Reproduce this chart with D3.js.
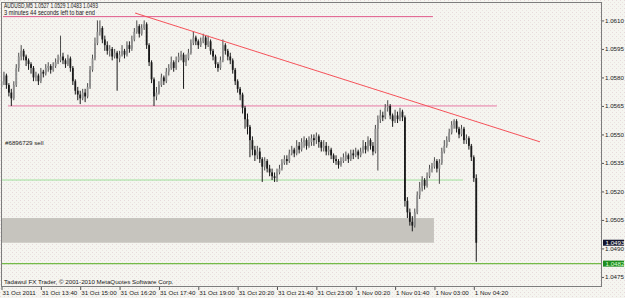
<!DOCTYPE html>
<html>
<head>
<meta charset="utf-8">
<script src="https://cdn.jsdelivr.net/npm/d3@7"></script>
<style>
    body { margin: 0; background: #f4f4ef; }
    svg { display: block; }
    text { font-family: "Liberation Sans", Arial, sans-serif; font-size: 6.2px; fill: #1a1a1a; }
</style>
</head>
<body>
<div id="chart"></div>
<script>
// AUDUSD M5, 31 Oct 2011 12:20 -> 1 Nov 04:25, one entry per bar
var firstOpen = 1.0575
var closes = [
    1.0578, 1.0581, 1.0576, 1.0572, 1.0569, 1.0576, 1.0585, 1.0591, 1.0594, 1.0591,
    1.0589, 1.0587, 1.0585, 1.0580, 1.0581, 1.0578, 1.0583, 1.0582, 1.0585, 1.0586,
    1.0584, 1.0586, 1.0588, 1.0589, 1.0591, 1.0589, 1.0587, 1.0590, 1.0585, 1.0578,
    1.0573, 1.0571, 1.0569, 1.0572, 1.0570, 1.0575, 1.0584, 1.0590, 1.0598, 1.0604,
    1.0606, 1.0600, 1.0597, 1.0594, 1.0595, 1.0591, 1.0593, 1.0590, 1.0592, 1.0594,
    1.0592, 1.0597, 1.0595, 1.0600, 1.0604, 1.0607, 1.0603, 1.0606, 1.0608, 1.0597,
    1.0588, 1.0579, 1.0570, 1.0572, 1.0576, 1.0580, 1.0578, 1.0583, 1.0585, 1.0588,
    1.0585, 1.0589, 1.0591, 1.0592, 1.0588, 1.0590, 1.0593, 1.0598, 1.0601, 1.0599,
    1.0597, 1.0599, 1.0601, 1.0597, 1.0599, 1.0594, 1.0591, 1.0587, 1.0585, 1.0589,
    1.0597, 1.0594, 1.0591, 1.0589, 1.0584, 1.0578, 1.0574, 1.0571, 1.0564, 1.0558,
    1.0554, 1.0547, 1.0542, 1.0539, 1.0541, 1.0537, 1.0533, 1.0536, 1.0532, 1.0530,
    1.0528, 1.0527, 1.0530, 1.0532, 1.0535, 1.0537, 1.0536, 1.0540, 1.0542, 1.0540,
    1.0544, 1.0542, 1.0546, 1.0547, 1.0544, 1.0546, 1.0548, 1.0547, 1.0549, 1.0546,
    1.0543, 1.0544, 1.0541, 1.0542, 1.0539, 1.0537, 1.0536, 1.0534, 1.0536, 1.0538,
    1.0539, 1.0537, 1.0540, 1.0539, 1.0541, 1.0539, 1.0541, 1.0544, 1.0542, 1.0547,
    1.0544, 1.0541, 1.0553, 1.0558, 1.0560, 1.0559, 1.0564, 1.0565, 1.0560, 1.0557,
    1.0560, 1.0558, 1.0562, 1.0559, 1.0515, 1.0509, 1.0504, 1.0502, 1.0509, 1.0518,
    1.0522, 1.0526, 1.0523, 1.0528, 1.0532, 1.0533, 1.0536, 1.0532, 1.0535, 1.0541,
    1.0544, 1.0547, 1.0551, 1.0555, 1.0557, 1.0553, 1.0550, 1.0553, 1.0547, 1.0548,
    1.0544, 1.0538, 1.0527, 1.0493
]
var highs = [
    1.0580, 1.0583, 1.0582, 1.0577, 1.0574, 1.0578, 1.0587, 1.0593, 1.0597, 1.0595,
    1.0592, 1.0590, 1.0588, 1.0586, 1.0583, 1.0582, 1.0585, 1.0584, 1.0587, 1.0588,
    1.0587, 1.0588, 1.0590, 1.0592, 1.0602, 1.0593, 1.0590, 1.0592, 1.0591, 1.0586,
    1.0579, 1.0575, 1.0573, 1.0574, 1.0574, 1.0577, 1.0586, 1.0592, 1.0601, 1.0610,
    1.0610, 1.0607, 1.0602, 1.0599, 1.0597, 1.0596, 1.0595, 1.0594, 1.0594, 1.0597,
    1.0595, 1.0599, 1.0599, 1.0602, 1.0606, 1.0610, 1.0608, 1.0608, 1.0610, 1.0609,
    1.0598, 1.0589, 1.0580, 1.0575, 1.0578, 1.0582, 1.0581, 1.0585, 1.0587, 1.0591,
    1.0589, 1.0591, 1.0593, 1.0594, 1.0593, 1.0592, 1.0595, 1.0600, 1.0604, 1.0602,
    1.0600, 1.0601, 1.0603, 1.0602, 1.0602, 1.0600, 1.0595, 1.0592, 1.0588, 1.0591,
    1.0600, 1.0598, 1.0595, 1.0593, 1.0590, 1.0585, 1.0579, 1.0575, 1.0572, 1.0565,
    1.0561, 1.0555, 1.0549, 1.0544, 1.0544, 1.0543, 1.0538, 1.0538, 1.0537, 1.0534,
    1.0532, 1.0530, 1.0532, 1.0534, 1.0537, 1.0539, 1.0539, 1.0542, 1.0544, 1.0543,
    1.0547, 1.0546, 1.0548, 1.0549, 1.0548, 1.0549, 1.0550, 1.0550, 1.0551, 1.0550,
    1.0547, 1.0547, 1.0546, 1.0544, 1.0543, 1.0540, 1.0539, 1.0537, 1.0538, 1.0540,
    1.0541, 1.0540, 1.0542, 1.0542, 1.0543, 1.0542, 1.0543, 1.0547, 1.0546, 1.0549,
    1.0548, 1.0546, 1.0555, 1.0560, 1.0563, 1.0562, 1.0566, 1.0568, 1.0566, 1.0561,
    1.0563, 1.0562, 1.0564, 1.0563, 1.0560, 1.0517, 1.0511, 1.0507, 1.0511, 1.0520,
    1.0525, 1.0528, 1.0527, 1.0530, 1.0534, 1.0535, 1.0538, 1.0537, 1.0537, 1.0543,
    1.0547, 1.0549, 1.0553, 1.0557, 1.0558, 1.0558, 1.0554, 1.0555, 1.0554, 1.0550,
    1.0549, 1.0545, 1.0539, 1.0529
]
var lows = [
    1.0572, 1.0576, 1.0574, 1.0570, 1.0565, 1.0568, 1.0575, 1.0583, 1.0589, 1.0589,
    1.0586, 1.0584, 1.0582, 1.0578, 1.0578, 1.0576, 1.0577, 1.0580, 1.0581, 1.0583,
    1.0582, 1.0583, 1.0585, 1.0587, 1.0588, 1.0587, 1.0585, 1.0586, 1.0583, 1.0576,
    1.0571, 1.0568, 1.0566, 1.0568, 1.0567, 1.0569, 1.0574, 1.0583, 1.0589, 1.0597,
    1.0602, 1.0598, 1.0594, 1.0592, 1.0591, 1.0589, 1.0590, 1.0573, 1.0588, 1.0591,
    1.0590, 1.0591, 1.0593, 1.0594, 1.0599, 1.0603, 1.0601, 1.0602, 1.0605, 1.0595,
    1.0586, 1.0577, 1.0565, 1.0568, 1.0571, 1.0575, 1.0576, 1.0577, 1.0581, 1.0584,
    1.0583, 1.0584, 1.0588, 1.0589, 1.0574, 1.0586, 1.0589, 1.0592, 1.0597, 1.0597,
    1.0595, 1.0596, 1.0598, 1.0595, 1.0596, 1.0592, 1.0589, 1.0585, 1.0583, 1.0584,
    1.0588, 1.0592, 1.0589, 1.0587, 1.0582, 1.0576, 1.0572, 1.0568, 1.0561, 1.0553,
    1.0550, 1.0538, 1.0539, 1.0536, 1.0537, 1.0535, 1.0525, 1.0531, 1.0530, 1.0528,
    1.0526, 1.0525, 1.0525, 1.0529, 1.0531, 1.0534, 1.0534, 1.0535, 1.0539, 1.0538,
    1.0539, 1.0540, 1.0541, 1.0543, 1.0542, 1.0543, 1.0544, 1.0544, 1.0545, 1.0543,
    1.0541, 1.0541, 1.0539, 1.0539, 1.0537, 1.0535, 1.0534, 1.0532, 1.0533, 1.0535,
    1.0536, 1.0535, 1.0536, 1.0537, 1.0538, 1.0537, 1.0538, 1.0540, 1.0540, 1.0541,
    1.0542, 1.0539, 1.0540, 1.0531, 1.0556, 1.0557, 1.0558, 1.0562, 1.0558, 1.0554,
    1.0556, 1.0556, 1.0557, 1.0557, 1.0512, 1.0506, 1.0502, 1.0499, 1.0501, 1.0508,
    1.0516, 1.0520, 1.0521, 1.0522, 1.0527, 1.0530, 1.0532, 1.0530, 1.0524, 1.0534,
    1.0540, 1.0543, 1.0546, 1.0550, 1.0553, 1.0551, 1.0548, 1.0549, 1.0545, 1.0545,
    1.0542, 1.0536, 1.0525, 1.0483
]

var priceTicks = [1.0610, 1.0595, 1.0580, 1.0565, 1.0550, 1.0535, 1.0520, 1.0505, 1.0490, 1.0475]
var timeTickBars = [0, 16, 32, 48, 64, 80, 96, 112, 128, 144, 160, 176, 192]
var timeLabels = ["31 Oct 2011", "31 Oct 13:40", "31 Oct 15:00", "31 Oct 16:20", "31 Oct 17:40",
    "31 Oct 19:00", "31 Oct 20:20", "31 Oct 21:40", "31 Oct 23:00", "1 Nov 00:20",
    "1 Nov 01:40", "1 Nov 03:00", "1 Nov 04:20"]

// chart objects (prices, and start / end in bars)
var resistTop = { price: 1.0612, from: 0.6, to: 175.4 }
var resistMid = { price: 1.0565, from: 2.6, to: 201.4 }
var supportLine = { price: 1.0526, from: 0.2, to: 187.6 }
var zoneBox = { top: 1.0506, bottom: 1.0493, from: 0.2, to: 175.8 }
var trendBars = [54.3, 218.9]
var trendPrices = [1.06139, 1.05461]
var bidPrice = 1.0493
var levelPrice = 1.0482

var title = "AUDUSD,M5  1.0527 1.0529 1.0483 1.0493"
var timer = "3 minutes 44 seconds left to bar end"
var orderLabel = "#6896729 sell"
var copyright = "Tadawul FX Trader, \u00a9 2001-2010 MetaQuotes Software Corp."

var W = 625, H = 298
var plot = { left: 1, top: 2, right: 602, bottom: 287 }

var svg = d3.select('#chart').append('svg')
    .attr('width', W).attr('height', H)

var defs = svg.append('defs')
var pat = defs.append('pattern').attr('id', 'dots')
    .attr('width', 4).attr('height', 4).attr('patternUnits', 'userSpaceOnUse')
pat.append('rect').attr('width', 4).attr('height', 4).attr('fill', '#f5f5f0')
pat.append('rect').attr('x', 0).attr('y', 0).attr('width', 1).attr('height', 1).attr('fill', '#e7d9db')
pat.append('rect').attr('x', 2).attr('y', 2).attr('width', 1).attr('height', 1).attr('fill', '#ebe3e0')
defs.append('clipPath').attr('id', 'clip').append('rect')
    .attr('x', plot.left).attr('y', plot.top)
    .attr('width', plot.right - plot.left).attr('height', plot.bottom - plot.top)

svg.append('rect').attr('width', W).attr('height', H).attr('fill', 'url(#dots)')

var x = d3.scaleLinear().domain([0, 244.4]).range([1.5, 602.7])
var y = d3.scaleLinear().domain([1.04697, 1.06197]).range([plot.bottom, plot.top])

var g = svg.append('g').attr('clip-path', 'url(#clip)')

// zone and levels, behind the candles
g.append('rect')
    .attr('x', x(zoneBox.from)).attr('width', x(zoneBox.to) - x(zoneBox.from))
    .attr('y', y(zoneBox.top)).attr('height', y(zoneBox.bottom) - y(zoneBox.top))
    .attr('fill', '#c6c4be')

function hline(l, color, w) {
    g.append('line')
        .attr('x1', x(l.from)).attr('x2', x(l.to))
        .attr('y1', y(l.price)).attr('y2', y(l.price))
        .attr('stroke', color).attr('stroke-width', w)
}
hline(resistTop, '#e0588a', 1)
hline(resistMid, '#e87aa6', 1)
hline(supportLine, '#9ee09a', 1)
hline({ price: levelPrice, from: -2, to: 250 }, '#74bb48', 1.2)

// candles
var bars = closes.map(function (c, i) {
    return { i: i, o: i === 0 ? firstOpen : closes[i - 1], c: c, h: highs[i], l: lows[i] }
})

var candle = g.append('g').selectAll('g').data(bars).enter().append('g')

candle.append('line')
    .attr('x1', d => x(d.i)).attr('x2', d => x(d.i))
    .attr('y1', d => y(d.h)).attr('y2', d => y(d.l))
    .attr('stroke', d => d.c >= d.o ? '#4a4a4a' : '#1a1a1a')
    .attr('stroke-width', 1)

candle.append('rect')
    .attr('x', d => x(d.i) - 0.9)
    .attr('width', 1.8)
    .attr('y', d => y(Math.max(d.o, d.c)))
    .attr('height', d => Math.max(1, y(Math.min(d.o, d.c)) - y(Math.max(d.o, d.c))))
    .attr('fill', d => d.c >= d.o ? '#8e8e8e' : '#1a1a1a')

// trend line
g.append('line')
    .attr('x1', x(trendBars[0])).attr('y1', y(trendPrices[0]))
    .attr('x2', x(trendBars[1])).attr('y2', y(trendPrices[1]))
    .attr('stroke', '#f5525a').attr('stroke-width', 1)

// border
svg.append('rect')
    .attr('x', plot.left + 0.5).attr('y', plot.top + 0.5)
    .attr('width', plot.right - plot.left - 1).attr('height', plot.bottom - plot.top - 1)
    .attr('fill', 'none').attr('stroke', '#7c7c7c')

// price axis
var axisR = d3.axisRight(y).tickValues(priceTicks).tickFormat(d3.format('.4f'))
    .tickSize(2).tickPadding(1)
var ga = svg.append('g').attr('transform', `translate(${plot.right},0)`).call(axisR)
ga.select('.domain').remove()
ga.selectAll('line').attr('stroke', '#555')
ga.selectAll('text').attr('fill', null)
ga.attr('font-size', null).attr('font-family', null)

// time axis
var axisB = d3.axisBottom(x).tickValues(timeTickBars)
    .tickFormat((d, i) => timeLabels[i]).tickSize(3).tickPadding(1)
var gb = svg.append('g').attr('transform', `translate(0,${plot.bottom})`).call(axisB)
gb.select('.domain').remove()
gb.selectAll('line').attr('stroke', '#555')
gb.selectAll('text').attr('text-anchor', 'start').attr('x', 0.5).attr('fill', null)
gb.attr('font-size', null).attr('font-family', null)

// price tags
function tag(price, fill, color) {
    var t = svg.append('g').attr('transform', `translate(${plot.right + 1},${y(price)})`)
    t.append('rect').attr('x', 0).attr('y', -3).attr('width', 21).attr('height', 6).attr('fill', fill)
    t.append('text').attr('x', 2.5).attr('y', 2.2).text(d3.format('.4f')(price)).style('fill', color)
}
tag(bidPrice, '#14142c', '#ffffff')
tag(levelPrice, '#1f8c1f', '#d8ffd0')

// texts
svg.append('text').attr('x', 4).attr('y', 8.3).attr('textLength', 94)
    .attr('lengthAdjust', 'spacingAndGlyphs').style('font-size', '6.6px').text(title)
svg.append('text').attr('x', 4).attr('y', 15).attr('textLength', 91)
    .attr('lengthAdjust', 'spacingAndGlyphs').style('font-size', '6.6px').text(timer)
svg.append('text').attr('x', 5).attr('y', 145).text(orderLabel)
svg.append('text').attr('x', 4).attr('y', 284).text(copyright)
</script>
</body>
</html>
